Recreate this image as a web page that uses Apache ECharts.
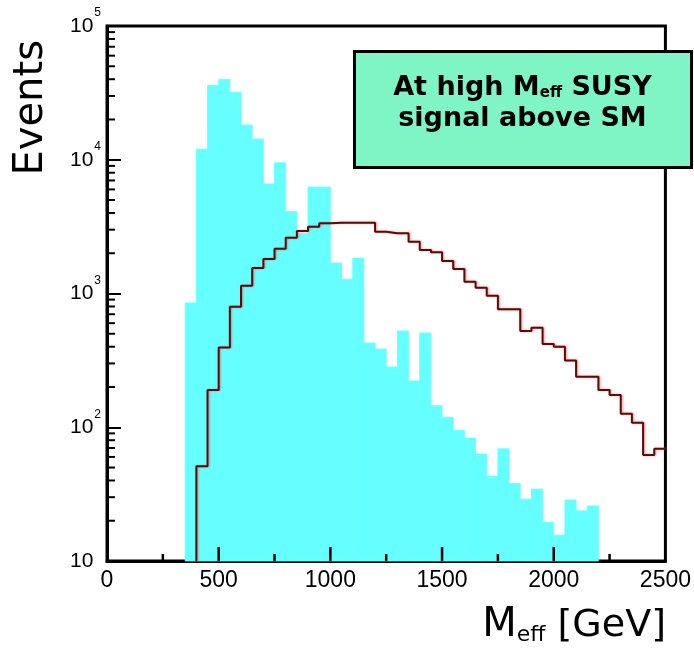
<!DOCTYPE html>
<html>
<head>
<meta charset="utf-8">
<script src="https://cdn.jsdelivr.net/npm/echarts@6/dist/echarts.min.js"></script>
<style>html,body{margin:0;padding:0;background:#fff;}#c{width:694px;height:653px;}</style>
</head>
<body>
<div id="c"></div>
<script>
// ---- data ----
const BIN_WIDTH = 50;
// SM background histogram (cyan): lower bin edges [GeV] and events
const smBinLow = [350,400,450,500,550,600,650,700,750,800,850,900,950,1000,1050,1100,1150,1200,1250,1300,1350,1400,1450,1500,1550,1600,1650,1700,1750,1800,1850,1900,1950,2000,2050,2100,2150];
const smEvents = [850,12000,36000,40000,32000,18200,14300,6600,9500,4100,2800,6250,6250,1690,1280,1840,427,385,282,525,222,507,145,119,95,83,63,43,69,38,29,34.5,19.5,15.6,28.6,23.7,25.8];
// SUSY signal histogram (line): lower bin edges [GeV] and events
const susyBinLow = [400,450,500,550,600,650,700,750,800,850,900,950,1000,1050,1100,1150,1200,1250,1300,1350,1400,1450,1500,1550,1600,1650,1700,1750,1800,1850,1900,1950,2000,2050,2100,2150,2200,2250,2300,2350,2400,2450];
const susyEvents = [51,190,394,797,1144,1550,1810,2160,2615,2930,3160,3350,3380,3380,3380,3380,2900,2820,2820,2440,2115,2030,1750,1525,1225,1104,962,762,762,525,555,419,400,315,239,239,190,174,126,108,62,69];
// axis ticks
const xTicks = [0,500,1000,1500,2000,2500];
const xMinorTicks = [250,750,1250,1750,2250];
const yDecades = [10,100,1000,10000,100000];

const Y_MIN = 10, Y_MAX = 100000;

// step-line points for signal histogram outline
const susyLine = [[susyBinLow[0], Y_MIN]];
susyBinLow.forEach((x,i)=>susyLine.push([x, susyEvents[i]]));
susyLine.push([susyBinLow[susyBinLow.length-1] + BIN_WIDTH, susyEvents[susyEvents.length-1]]);

// minor tick positions for the log axis (2..9 per decade)
const yMinor = [];
yDecades.slice(0,-1).forEach(d=>{ for(let k=2;k<=9;k++) yMinor.push([0, d*k]); });
// x tick marks: [value, length px]
const xTickMarks = xTicks.slice(1,-1).map(v=>[v,14]).concat(xMinorTicks.map(v=>[v,7]));

const chart = echarts.init(document.getElementById('c'), null, {renderer:'canvas'});
const labelFont = 'Liberation Sans, Arial, sans-serif';
const titleFont = 'DejaVu Sans, sans-serif';

const baseGraphics = [
  {
    type:'text', left:12, top:40, rotation:Math.PI/2,
    style:{text:'Events', font:'40px '+titleFont, fill:'#000'}
  },
  {
    type:'text', right:28, top:606,
    style:{
      text:'{m|M}{e|eff}{r| [GeV]}',
      rich:{
        m:{fontSize:40,fontFamily:titleFont,color:'#000'},
        e:{fontSize:22,fontFamily:titleFont,color:'#000',verticalAlign:'bottom'},
        r:{fontSize:38,fontFamily:titleFont,color:'#000'}
      }
    }
  },
  {
    type:'group', left:353, top:50, z:100,
    children:[
      {type:'rect', shape:{x:0,y:0,width:337,height:116}, style:{fill:'#7ff5c5', stroke:'#000', lineWidth:3}},
      {type:'text', x:168, y:36, style:{
        text:'{n|At high }{m|M}{e|eff}{n| SUSY}', align:'center', verticalAlign:'middle',
        rich:{
          n:{fontSize:27,fontWeight:'bold',fontFamily:titleFont,color:'#000'},
          m:{fontSize:27,fontWeight:'bold',fontFamily:titleFont,color:'#000'},
          e:{fontSize:15,fontWeight:'bold',fontFamily:titleFont,color:'#000',verticalAlign:'bottom'}
        }
      }},
      {type:'text', x:168, y:67, style:{
        text:'signal above SM', align:'center', verticalAlign:'middle',
        font:'bold 27px '+titleFont, fill:'#000'
      }}
    ]
  }
];

chart.setOption({
  animation:false,
  backgroundColor:'#fff',
  grid:{left:107,right:27,top:26,bottom:92,show:true,borderColor:'#000',borderWidth:3,backgroundColor:'transparent',containLabel:false},
  xAxis:{
    type:'value', min:xTicks[0], max:xTicks[xTicks.length-1], interval:500,
    axisLine:{show:true,onZero:false,lineStyle:{color:'#000',width:3}},
    axisTick:{show:false},
    minorTick:{show:false},
    splitLine:{show:false},
    axisLabel:{show:true,margin:8,color:'#000',fontSize:23,fontFamily:labelFont,showMinLabel:true,showMaxLabel:true,
      formatter:function(v){return String(v);}}
  },
  yAxis:{
    type:'log', logBase:10, min:Y_MIN, max:Y_MAX,
    axisLine:{show:true,lineStyle:{color:'#000',width:3}},
    axisTick:{show:true,inside:true,length:14,lineStyle:{color:'#000',width:2}},
    splitLine:{show:false},
    axisLabel:{
      show:true, margin:6, color:'#000',
      formatter:function(v){
        const e = Math.round(Math.log10(v));
        if(e===1) return '{b|10}{h|1}';
        return '{b|10}{s|'+e+'}';
      },
      rich:{
        b:{fontSize:21,fontFamily:labelFont,color:'#000'},
        s:{fontSize:12,fontFamily:labelFont,color:'#000',padding:[0,0,26,1]},
        h:{fontSize:12,fontFamily:labelFont,color:'rgba(0,0,0,0)',padding:[0,0,26,1]}
      }
    }
  },
  series:[
    {
      type:'custom', name:'SM', z:1,
      data: smBinLow.map((x,i)=>[x, smEvents[i]]),
      renderItem:function(params, api){
        const x0 = api.value(0), v = api.value(1);
        const p1 = api.coord([x0, v]);
        const p2 = api.coord([x0 + BIN_WIDTH, Y_MIN]);
        return {type:'rect', shape:{x:p1[0], y:p1[1], width:p2[0]-p1[0], height:p2[1]-p1[1]},
          style:{fill:'#66ffff', stroke:'#66ffff', lineWidth:0.8}};
      }
    },
    {
      type:'line', name:'SUSY', z:4, step:'end', showSymbol:false, symbol:'none',
      data: susyLine,
      lineStyle:{color:'#5a0c0c', width:2, shadowColor:'rgba(255,60,60,0.6)', shadowBlur:2, shadowOffsetX:1},
      silent:true
    },
    {
      type:'custom', name:'yMinorTicks', z:12, silent:true,
      data: yMinor,
      renderItem:function(params, api){
        const p = api.coord([api.value(0), api.value(1)]);
        return {type:'line', shape:{x1:p[0], y1:p[1], x2:p[0]+8, y2:p[1]}, style:{stroke:'#000', lineWidth:2}};
      }
    }
  ],
  graphic: baseGraphics
});

// x-axis tick marks drawn on top of the bars, placed through the chart's own scale
const tickGraphics = xTickMarks.map(function(t){
  const p = chart.convertToPixel({xAxisIndex:0, yAxisIndex:0}, [t[0], Y_MIN]);
  return {type:'line', z:150, silent:true,
    shape:{x1:p[0], y1:p[1], x2:p[0], y2:p[1]-t[1]},
    style:{stroke:'#000', lineWidth:2.5}};
});
chart.setOption({graphic: baseGraphics.concat(tickGraphics)});
</script>
</body>
</html>
